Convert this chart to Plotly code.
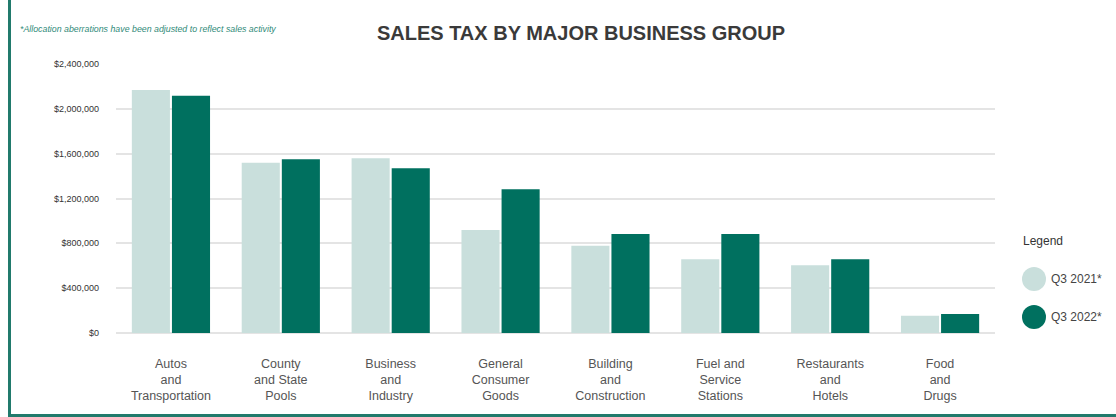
import plotly.graph_objects as go

# Sales tax receipts by major business group (USD)
categories = [
    "Autos<br>and<br>Transportation",
    "County<br>and State<br>Pools",
    "Business<br>and<br>Industry",
    "General<br>Consumer<br>Goods",
    "Building<br>and<br>Construction",
    "Fuel and<br>Service<br>Stations",
    "Restaurants<br>and<br>Hotels",
    "Food<br>and<br>Drugs",
]
q3_2021 = [2168000, 1520000, 1559000, 919000, 779000, 657000, 604000, 155000]
q3_2022 = [2117000, 1550000, 1470000, 1282000, 883000, 883000, 657000, 170000]
series_names = ["Q3 2021*", "Q3 2022*"]
y_ticks = [0, 400000, 800000, 1200000, 1600000, 2000000, 2400000]
y_tick_labels = ["$0", "$400,000", "$800,000", "$1,200,000", "$1,600,000",
                 "$2,000,000", "$2,400,000"]

LIGHT = "#c9dfdc"
DARK = "#00705f"
BORDER = "#217a6c"
FONT = "Liberation Sans, Arial, sans-serif"

W, H = 1116, 417
ML, MR, MT, MB = 116, 121, 64, 84
PW, PH = W - ML - MR, H - MT - MB


def px(x):
    return (x - ML) / PW


def py(y):
    return (H - MB - y) / PH


fig = go.Figure()
fig.add_trace(go.Bar(x=categories, y=q3_2021, name=series_names[0],
                     marker=dict(color=LIGHT, line=dict(width=0))))
fig.add_trace(go.Bar(x=categories, y=q3_2022, name=series_names[1],
                     marker=dict(color=DARK, line=dict(width=0))))

shapes = [
    # frame lines on the left and bottom edges
    dict(type="rect", xref="paper", yref="paper", x0=px(8), x1=px(11),
         y0=py(H), y1=py(0), fillcolor=BORDER, line=dict(width=0), layer="above"),
    dict(type="rect", xref="paper", yref="paper", x0=px(8), x1=px(W),
         y0=py(H), y1=py(414), fillcolor=BORDER, line=dict(width=0), layer="above"),
]
annotations = [
    dict(text="*Allocation aberrations have been adjusted to reflect sales activity",
         xref="paper", yref="paper", x=px(18), y=py(29), xanchor="left", yanchor="middle",
         showarrow=False, font=dict(family=FONT, size=8.8, color="#2f8a78", style="italic")),
    dict(text="Legend", xref="paper", yref="paper", x=px(1021), y=py(241),
         xanchor="left", yanchor="middle", showarrow=False,
         font=dict(family=FONT, size=12, color="#333333")),
]

# custom legend with large round swatches
legend_rows = [(LIGHT, 279), (DARK, 317)]
for (color, yc), name in zip(legend_rows, series_names):
    shapes.append(dict(type="circle", xref="paper", yref="paper",
                       xsizemode="pixel", ysizemode="pixel",
                       xanchor=px(1034), yanchor=py(yc),
                       x0=-12, x1=12, y0=-12, y1=12,
                       fillcolor=color, line=dict(width=0)))
    annotations.append(dict(text=name, xref="paper", yref="paper", x=px(1049), y=py(yc),
                            xanchor="left", yanchor="middle", showarrow=False,
                            font=dict(family=FONT, size=12, color="#444444")))

fig.update_layout(
    width=W, height=H,
    margin=dict(l=ML, r=MR, t=MT, b=MB, autoexpand=False),
    paper_bgcolor="white", plot_bgcolor="white",
    barmode="group", bargap=0.27, bargroupgap=0.05,
    showlegend=False,
    title=dict(text="<b>SALES TAX BY MAJOR BUSINESS GROUP</b>", xref="container",
               yref="container", x=581 / W, y=1 - 33 / H, xanchor="center",
               yanchor="middle", font=dict(family=FONT, size=20, color="#3a3a3a")),
    xaxis=dict(showgrid=False, showline=False, ticks="", ticklabelstandoff=21,
               tickfont=dict(family=FONT, size=12.5, color="#555555")),
    yaxis=dict(range=[0, 2400000], tickmode="array", tickvals=y_ticks,
               ticktext=y_tick_labels,
               showgrid=True, gridcolor="#e4e4e4", gridwidth=1.5,
               zeroline=True, zerolinecolor="#e4e4e4", zerolinewidth=1.5,
               ticks="", ticklabelstandoff=16,
               tickfont=dict(family=FONT, size=9, color="#333333")),
    shapes=shapes, annotations=annotations,
)

fig.write_html("out.html")
